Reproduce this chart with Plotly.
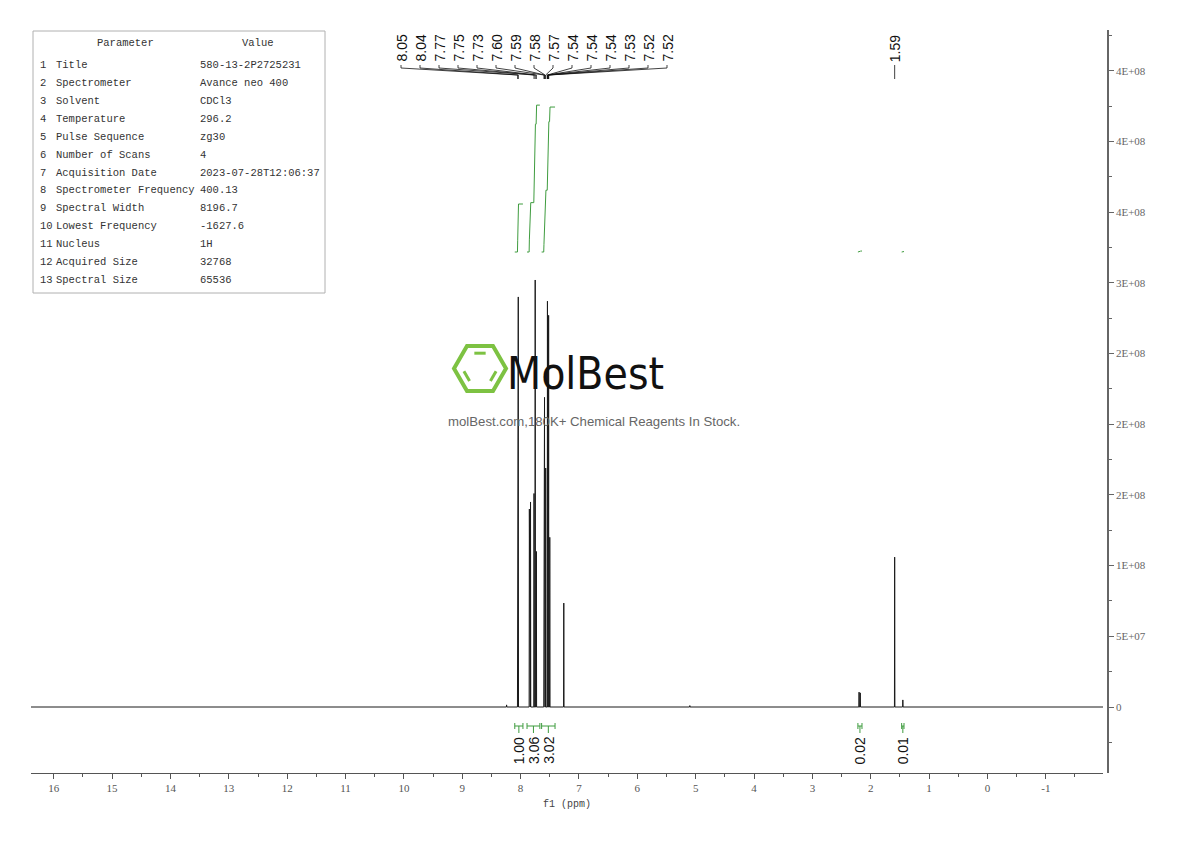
import plotly.graph_objects as go

# ---------------- data ----------------
peak_ppm = [8.24, 8.05, 8.04, 7.85, 7.83, 7.77, 7.75, 7.73, 7.60, 7.59, 7.57,
            7.54, 7.52, 7.50, 7.26, 5.10, 2.20, 2.18, 1.59, 1.45]
peak_height = [1.5e6, 2.80e8, 2.90e8, 1.40e8, 1.45e8, 1.51e8, 3.02e8, 1.10e8,
               1.20e8, 2.19e8, 1.69e8, 2.87e8, 2.77e8, 1.20e8, 7.35e7, 1.0e6,
               1.05e7, 1.0e7, 1.06e8, 5.0e6]

cluster_labels = [8.05, 8.04, 7.77, 7.75, 7.73, 7.60, 7.59, 7.58, 7.57,
                  7.54, 7.54, 7.54, 7.53, 7.52, 7.52]
single_labels = [1.59]

integral_from = [8.10, 7.89, 7.64, 2.22, 1.47]
integral_to = [7.96, 7.67, 7.41, 2.15, 1.43]
integral_value = [1.00, 3.06, 3.02, 0.02, 0.01]

param_names = ["Title", "Spectrometer", "Solvent", "Temperature", "Pulse Sequence",
               "Number of Scans", "Acquisition Date", "Spectrometer Frequency",
               "Spectral Width", "Lowest Frequency", "Nucleus", "Acquired Size",
               "Spectral Size"]
param_values = ["580-13-2P2725231", "Avance neo 400", "CDCl3", "296.2", "zg30", "4",
                "2023-07-28T12:06:37", "400.13", "8196.7", "-1627.6", "1H", "32768",
                "65536"]

y_tickvals = [0, 5e7, 1e8, 1.5e8, 2e8, 2.5e8, 3e8, 3.5e8, 4e8, 4.5e8]
y_ticktext = ["0", "5E+07", "1E+08", "2E+08", "2E+08", "2E+08", "3E+08", "4E+08", "4E+08", "4E+08"]
x_tickvals = list(range(-1, 17))

# ---------------- layout geometry (screen pixels) ----------------
OFF = 8                                   # page body margin
W_FIG, H_FIG = 1190 - OFF, 841 - OFF
PL, PR, PT, PB = 31, 1108, 30, 773        # plot area on screen
X_AX_END = 1103
XL, XR = 16.39, -1.98
YMIN, YMAX = -4.668e7, 4.788e8


def ydat(py):
    return YMIN + (PB - py) / (PB - PT) * (YMAX - YMIN)


def xdat(px):
    return XL - (px - PL) / (X_AX_END - PL) * (XL - XR)


def pxx(px):
    return (px - PL) / (PR - PL)


def pxy(py):
    return (PB - py) / (PB - PT)


# ---------------- spectrum trace ----------------
HALF_W = 0.004
pairs = sorted(zip(peak_ppm, peak_height), reverse=True)
xs, ys = [XL], [0.0]
for p, h in pairs:
    xs += [p + HALF_W, p, p - HALF_W]
    ys += [0.0, h, 0.0]
xs.append(XR)
ys.append(0.0)

fig = go.Figure()
fig.add_trace(go.Scatter(x=xs, y=ys, mode="lines",
                         line=dict(color="#1a1a1a", width=1), hoverinfo="skip",
                         showlegend=False))

# ---------------- integral curves ----------------
INT_BASE = ydat(252)
INT_SCALE = ydat(707 - 48) - ydat(707)
GREEN = "#3f9c3f"
for hi, lo, val in zip(integral_from, integral_to, integral_value):
    seg = [(hi, 0.0)] + [(x, y) for x, y in zip(xs, ys) if lo < x < hi] + [(lo, 0.0)]
    cum = [0.0]
    for i in range(1, len(seg)):
        cum.append(cum[-1] + (seg[i - 1][0] - seg[i][0]) * (seg[i - 1][1] + seg[i][1]) / 2)
    tot = cum[-1] if cum[-1] > 0 else 1
    cx = [s[0] for s in seg]
    cy = [INT_BASE + c / tot * val * INT_SCALE for c in cum]
    fig.add_trace(go.Scatter(x=cx, y=cy, mode="lines", line=dict(color=GREEN, width=1),
                             hoverinfo="skip", showlegend=False))
    bx = [hi, hi, None, hi, lo, None, lo, lo, None, (hi + lo) / 2, (hi + lo) / 2]
    by = [ydat(723), ydat(729), None, ydat(726), ydat(726), None, ydat(723), ydat(729), None,
          ydat(726), ydat(733)]
    fig.add_trace(go.Scatter(x=bx, y=by, mode="lines", line=dict(color=GREEN, width=1),
                             hoverinfo="skip", showlegend=False))
    fig.add_annotation(x=(hi + lo) / 2, y=ydat(735), xref="x", yref="y",
                       text=f"{val:.2f}", textangle=-90, showarrow=False,
                       xanchor="center", yanchor="top",
                       font=dict(family="Liberation Sans, Arial", size=14, color="#111"))

# ---------------- peak labels ----------------
LABEL_CENTER = xdat(534)
STEP = xdat(0) - xdat(19)
n = len(cluster_labels)
lx = [LABEL_CENTER + (n - 1) / 2 * STEP - i * STEP for i in range(n)]
cxs, cys = [], []
for lp, pk in zip(lx, cluster_labels):
    cxs += [lp, lp, pk, pk, None]
    cys += [ydat(65), ydat(68), ydat(75), ydat(79), None]
    fig.add_annotation(x=lp, y=ydat(64), xref="x", yref="y", text=f"{pk:.2f}",
                       textangle=-90, showarrow=False, xanchor="center", yanchor="bottom",
                       font=dict(family="Liberation Sans, Arial", size=14, color="#111"))
for pk in single_labels:
    cxs += [pk, pk, None]
    cys += [ydat(65), ydat(79), None]
    fig.add_annotation(x=pk, y=ydat(64), xref="x", yref="y", text=f"{pk:.2f}",
                       textangle=-90, showarrow=False, xanchor="center", yanchor="bottom",
                       font=dict(family="Liberation Sans, Arial", size=14, color="#111"))
fig.add_trace(go.Scatter(x=cxs, y=cys, mode="lines", line=dict(color="#111", width=0.8),
                         hoverinfo="skip", showlegend=False))

# ---------------- parameter table ----------------
MONO = "Liberation Mono, Courier New, monospace"
tfont = dict(family=MONO, size=10.5, color="#333")
fig.add_shape(type="rect", xref="paper", yref="paper", x0=pxx(33), x1=pxx(325),
              y0=pxy(293), y1=pxy(31), line=dict(color="#b0b0b0", width=1),
              fillcolor="rgba(255,255,255,0.9)")
fig.add_annotation(x=pxx(125), y=pxy(43), xref="paper", yref="paper", text="Parameter",
                   showarrow=False, xanchor="center", yanchor="middle", font=tfont)
fig.add_annotation(x=pxx(258), y=pxy(43), xref="paper", yref="paper", text="Value",
                   showarrow=False, xanchor="center", yanchor="middle", font=tfont)
for i, (nm, vl) in enumerate(zip(param_names, param_values)):
    yy = pxy(65 + i * 17.92)
    fig.add_annotation(x=pxx(38), y=yy, xref="paper", yref="paper", text=str(i + 1),
                       showarrow=False, xanchor="left", yanchor="middle", font=tfont)
    fig.add_annotation(x=pxx(54), y=yy, xref="paper", yref="paper", text=nm,
                       showarrow=False, xanchor="left", yanchor="middle", font=tfont)
    fig.add_annotation(x=pxx(198), y=yy, xref="paper", yref="paper", text=vl,
                       showarrow=False, xanchor="left", yanchor="middle", font=tfont)

# ---------------- watermark ----------------
HGREEN = "#7dc242"
hcx, hcy, R = 480, 368.5, 26
hexpts = [(hcx - R, hcy), (hcx - R / 2, hcy - 0.866 * R), (hcx + R / 2, hcy - 0.866 * R),
          (hcx + R, hcy), (hcx + R / 2, hcy + 0.866 * R), (hcx - R / 2, hcy + 0.866 * R)]
path = "M " + " L ".join(f"{pxx(a):.5f},{pxy(b):.5f}" for a, b in hexpts) + " Z"
fig.add_shape(type="path", path=path, xref="paper", yref="paper",
              line=dict(color=HGREEN, width=4))
for (a1, b1), (a2, b2) in [(hexpts[1], hexpts[2]), (hexpts[3], hexpts[4]), (hexpts[5], hexpts[0])]:
    f = 0.68
    p1 = (hcx + (a1 - hcx) * f, hcy + (b1 - hcy) * f)
    p2 = (hcx + (a2 - hcx) * f, hcy + (b2 - hcy) * f)
    q1 = (p1[0] + (p2[0] - p1[0]) * 0.18, p1[1] + (p2[1] - p1[1]) * 0.18)
    q2 = (p1[0] + (p2[0] - p1[0]) * 0.82, p1[1] + (p2[1] - p1[1]) * 0.82)
    fig.add_shape(type="line", xref="paper", yref="paper", x0=pxx(q1[0]), y0=pxy(q1[1]),
                  x1=pxx(q2[0]), y1=pxy(q2[1]), line=dict(color=HGREEN, width=3))
fig.add_annotation(x=pxx(585), y=pxy(373), xref="paper", yref="paper", text="MolBest",
                   showarrow=False, xanchor="center", yanchor="middle",
                   font=dict(family="DejaVu Sans Condensed, DejaVu Sans, sans-serif",
                             size=44, color="#111"))
fig.add_annotation(x=pxx(594), y=pxy(421), xref="paper", yref="paper",
                   text="molBest.com,180K+ Chemical Reagents In Stock.",
                   showarrow=False, xanchor="center", yanchor="middle",
                   font=dict(family="Liberation Sans, Arial", size=13.2, color="#666"))

# ---------------- axes ----------------
SERIF = "Liberation Serif, Times New Roman, serif"
fig.update_layout(
    width=W_FIG, height=H_FIG,
    margin=dict(l=PL - OFF, r=W_FIG - (PR - OFF), t=PT - OFF, b=H_FIG - (PB - OFF)),
    paper_bgcolor="white", plot_bgcolor="white",
    showlegend=False,
    xaxis=dict(range=[XL, XR], domain=[0, (X_AX_END - PL) / (PR - PL)],
               showgrid=False, zeroline=False, showline=True, linecolor="#555", linewidth=1.3,
               ticks="outside", ticklen=5, tickcolor="#555", tickwidth=1,
               tickmode="array", tickvals=x_tickvals, ticktext=[str(v) for v in x_tickvals],
               tickfont=dict(family=SERIF, size=11, color="#555"),
               minor=dict(ticks="outside", ticklen=3, tickcolor="#555", dtick=0.5, tick0=0.5,
                          showgrid=False),
               title=dict(text="f1 (ppm)", font=dict(family=MONO, size=10, color="#444"),
                          standoff=6),
               automargin=False),
    yaxis=dict(range=[YMIN, YMAX], side="right", anchor="free", position=1,
               showgrid=False, zeroline=False, showline=True, linecolor="#666", linewidth=1.5,
               ticks="outside", ticklen=5, tickcolor="#666",
               tickmode="array", tickvals=y_tickvals, ticktext=y_ticktext,
               tickfont=dict(family=SERIF, size=11, color="#666"),
               minor=dict(ticks="outside", ticklen=3, tickcolor="#666",
                          tickmode="array",
                          tickvals=[-2.5e7, 2.5e7, 7.5e7, 1.25e8, 1.75e8, 2.25e8, 2.75e8,
                                    3.25e8, 3.75e8, 4.25e8, 4.75e8],
                          showgrid=False),
               automargin=False),
)

fig.write_html("out.html")
